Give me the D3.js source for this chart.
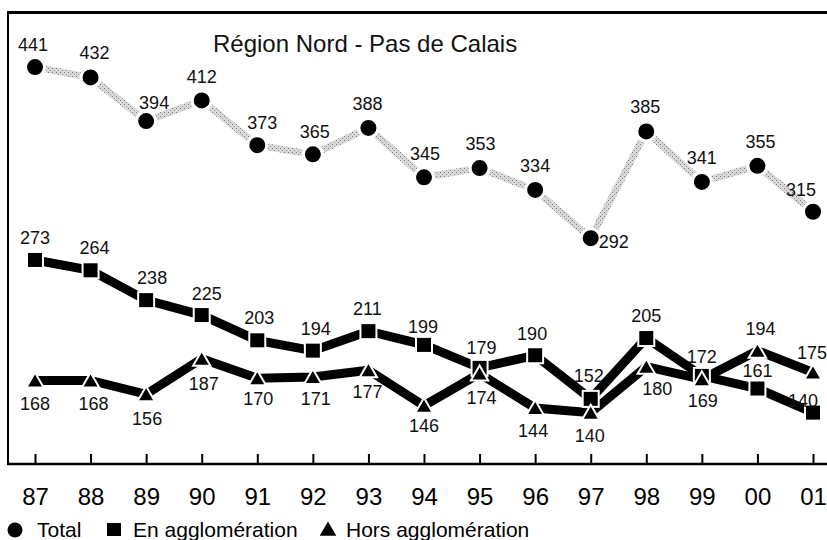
<!DOCTYPE html>
<html>
<head>
<meta charset="utf-8">
<script src="https://cdn.jsdelivr.net/npm/d3@7"></script>
<style>
  body { margin: 0; background: #fff; }
  svg { display: block; font-family: "Liberation Sans", Arial, Helvetica, sans-serif; }
  .lbl { font-size: 18px; fill: #111; }
</style>
</head>
<body>
<svg id="chart" width="827" height="540"></svg>
<script>
const years = ['87', '88', '89', '90', '91', '92', '93', '94', '95', '96', '97', '98', '99', '00', '01'];
const total = [441, 432, 394, 412, 373, 365, 388, 345, 353, 334, 292, 385, 341, 355, 315];
const enAgglo = [273, 264, 238, 225, 203, 194, 211, 199, 179, 190, 152, 205, 172, 161, 140];
const horsAgglo = [168, 168, 156, 187, 170, 171, 177, 146, 174, 144, 140, 180, 169, 194, 175];
const title = 'Région Nord - Pas de Calais';
const legendLabels = ['Total', 'En agglomération', 'Hors agglomération'];

// label placement (dx, dy of the label centre relative to the marker)
const totalPlace = [[-2,-22],[4,-24],[8,-18],[0,-23],[5,-22],[2,-22],[-1,-24],[1,-23],[1,-24],[0,-24],[23,4],[-1,-24],[0,-24],[3,-24],[-12,-22]];
const aggloPlace = [[0,-22],[4,-22],[6,-22],[5,-21],[2,-22],[3,-22],[-1,-22],[-1,-18],[2,-20],[-3,-21],[-2,-23],[0,-22],[0,-19],[0,-18],[-10,-12]];
const horsPlace = [[0,24],[3,24],[1,25],[2,25],[1,21],[3,22],[-1,22],[0,20],[2,24],[-2,23],[-1,23],[11,22],[1,22],[3,-22],[-1,-19]];

const svg = d3.select('#chart');

const x = d3.scalePoint().domain(years).range([35, 813]);
const y = d3.scaleLinear().domain([97, 489]).range([462, 12]);

// frame: top and left border
svg.append('line').attr('x1', 7).attr('x2', 827).attr('y1', 12.5).attr('y2', 12.5)
  .attr('stroke', '#000').attr('stroke-width', 3);
svg.append('line').attr('x1', 8).attr('x2', 8).attr('y1', 11).attr('y2', 464)
  .attr('stroke', '#000').attr('stroke-width', 2);

// x axis
const xAxis = d3.axisBottom(x).tickSize(-10).tickPadding(0);
const gx = svg.append('g').attr('transform', 'translate(0,464)').call(xAxis);
gx.select('.domain').attr('d', 'M7,0H827').attr('stroke', '#000').attr('stroke-width', 2.5);
gx.selectAll('.tick line').attr('stroke', '#000').attr('stroke-width', 2);
gx.selectAll('.tick text')
  .attr('y', 41).attr('dy', null)
  .attr('font-size', 24).attr('fill', '#000')
  .attr('font-family', '"Liberation Sans", Arial, sans-serif');

// title
svg.append('text').attr('x', 213).attr('y', 52).attr('font-size', 24).attr('fill', '#111').text(title);

const line = d3.line().x((d, i) => x(years[i])).y((d) => y(d));

// total line, grey stipple
const defs = svg.append('defs');
const pat = defs.append('pattern').attr('id', 'stipple').attr('width', 4).attr('height', 4)
  .attr('patternUnits', 'userSpaceOnUse');
pat.append('rect').attr('width', 4).attr('height', 4).attr('fill', '#d8d8d8');
pat.append('rect').attr('x', 0).attr('y', 0).attr('width', 1).attr('height', 1).attr('fill', '#7a7a7a');
pat.append('rect').attr('x', 2).attr('y', 2).attr('width', 1).attr('height', 1).attr('fill', '#999');

svg.append('path').datum(total).attr('d', line)
  .attr('fill', 'none').attr('stroke', 'url(#stipple)').attr('stroke-width', 7);
svg.append('path').datum(horsAgglo).attr('d', line)
  .attr('fill', 'none').attr('stroke', '#000').attr('stroke-width', 9);
svg.append('path').datum(enAgglo).attr('d', line)
  .attr('fill', 'none').attr('stroke', '#000').attr('stroke-width', 9);

// markers
svg.append('g').selectAll('circle').data(total).join('circle')
  .attr('cx', (d, i) => x(years[i])).attr('cy', (d) => y(d)).attr('r', 9.5)
  .attr('fill', '#000').attr('stroke', '#fff').attr('stroke-width', 3);

svg.append('g').selectAll('rect').data(enAgglo).join('rect')
  .attr('x', (d, i) => x(years[i]) - 8).attr('y', (d) => y(d) - 8)
  .attr('width', 16).attr('height', 16)
  .attr('fill', '#000').attr('stroke', '#fff').attr('stroke-width', 2);

const tri = d3.symbol().type(d3.symbolTriangle).size(130);
svg.append('g').selectAll('path').data(horsAgglo).join('path')
  .attr('d', tri)
  .attr('transform', (d, i) => `translate(${x(years[i])},${y(d) + 2})`)
  .attr('fill', '#000').attr('stroke', '#fff').attr('stroke-width', 2);

// value labels
function addLabels(values, place) {
  svg.append('g').selectAll('text').data(values).join('text')
    .attr('class', 'lbl')
    .attr('text-anchor', 'middle')
    .attr('x', (d, i) => x(years[i]) + place[i][0])
    .attr('y', (d, i) => y(d) + place[i][1] + 6)
    .text((d) => d);
}
addLabels(total, totalPlace);
addLabels(enAgglo, aggloPlace);
addLabels(horsAgglo, horsPlace);

// legend
const lg = svg.append('g').attr('font-size', 21).attr('fill', '#000');
lg.append('circle').attr('cx', 15).attr('cy', 530).attr('r', 7.5).attr('fill', '#000');
lg.append('text').attr('x', 37).attr('y', 537).text(legendLabels[0]);
lg.append('rect').attr('x', 107).attr('y', 523).attr('width', 14).attr('height', 13).attr('fill', '#000');
lg.append('text').attr('x', 133).attr('y', 537).text(legendLabels[1]);
lg.append('path').attr('d', d3.symbol().type(d3.symbolTriangle).size(120))
  .attr('transform', 'translate(328,531)').attr('fill', '#000');
lg.append('text').attr('x', 346).attr('y', 537).text(legendLabels[2]);
</script>
</body>
</html>
